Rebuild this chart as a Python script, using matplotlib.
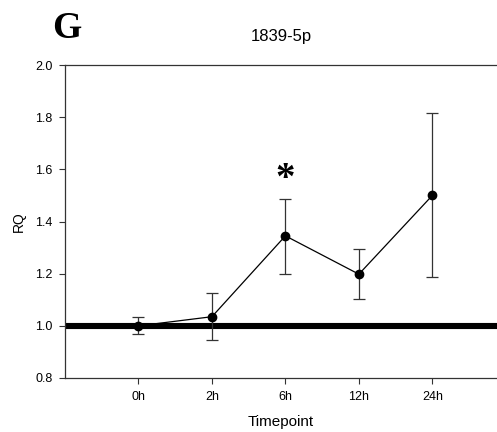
import matplotlib
matplotlib.use("Agg")
import matplotlib.pyplot as plt

plt.rcParams['font.family'] = ['Liberation Sans', 'DejaVu Sans']

timepoints = ["0h", "2h", "6h", "12h", "24h"]
rq = [1.00, 1.035, 1.345, 1.198, 1.50]
err_up = [0.035, 0.09, 0.14, 0.095, 0.315]
err_low = [0.03, 0.09, 0.145, 0.095, 0.313]
significant = [False, False, True, False, False]

fig = plt.figure(figsize=(4.97, 4.32), dpi=100)
ax = fig.add_axes([0.1308, 0.125, 0.8692, 0.7245])

x = list(range(len(timepoints)))
ax.axhline(1.0, color='black', linewidth=4.4, zorder=1)
ax.errorbar(x, rq, yerr=[err_low, err_up], color='black', linewidth=0.9,
            marker='o', markersize=6, capsize=4, elinewidth=0.9, ecolor='#333333',
            capthick=0.9, zorder=3)
for xi, yi, eu, s in zip(x, rq, err_up, significant):
    if s:
        ax.text(xi, yi + eu + 0.005, "*", ha='center', va='bottom', fontsize=28,
                family='Liberation Serif', fontweight='bold')

ax.set_xlim(-1, 4.88)
ax.set_ylim(0.8, 2.0)
ax.set_xticks(x)
ax.set_xticklabels(timepoints, fontsize=9)
ax.set_yticks([0.8, 1.0, 1.2, 1.4, 1.6, 1.8, 2.0])
ax.set_yticklabels(["0.8", "1.0", "1.2", "1.4", "1.6", "1.8", "2.0"], fontsize=9)
ax.tick_params(direction='out', length=4, width=0.8, color='#333333', pad=5)
ax.spines['right'].set_visible(False)
for s in ['left', 'top', 'bottom']:
    ax.spines[s].set_color('#333333')
    ax.spines[s].set_linewidth(0.9)

ax.set_ylabel("RQ", fontsize=10, labelpad=7)
ax.set_xlabel("Timepoint", fontsize=11, labelpad=9)
ax.set_title("1839-5p", fontsize=12, pad=17)
fig.text(0.135, 0.935, "G", fontsize=27, fontweight='bold', family='Liberation Serif',
         ha='center', va='center')

fig.savefig("out.png", dpi=100)
